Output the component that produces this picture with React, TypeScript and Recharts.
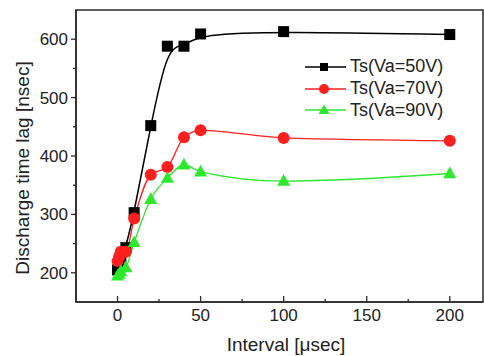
import React from 'react';
import { LineChart, Line, XAxis, YAxis, Legend, ReferenceArea } from 'recharts';

// interval [usec]
const intervals = [0, 1, 2, 5, 10, 20, 30, 40, 50, 100, 200];
// discharge time lag [nsec]
const ts50 = [205, 215, 228, 243, 303, 452, 588, 588, 609, 613, 608];
const ts70 = [220, 228, 236, 236, 293, 368, 381, 432, 444, 431, 426];
const ts90 = [195, 198, 202, 209, 252, 326, 362, 385, 373, 357, 370];

const xTicks = [0, 25, 50, 75, 100, 125, 150, 175, 200];
const yTicks = [200, 250, 300, 350, 400, 450, 500, 550, 600];
const xDomain = [-25, 220];
const yDomain = [150, 650];

const seriesNames = ['Ts(Va=50V)', 'Ts(Va=70V)', 'Ts(Va=90V)'];
const BLACK = '#000000';
const RED = '#ff1f1f';
const GREEN = '#2ee82e';

const FONT = '"Liberation Sans", Arial, sans-serif';
const AXIS = '#2a2a2a';

const data = intervals.map((x, i) => ({ x, a: ts50[i], b: ts70[i], c: ts90[i] }));

const XTick = (props: any) => {
  const { x, y, payload } = props;
  const major = payload.value % 50 === 0;
  return (
    <g>
      <line x1={x} y1={y} x2={x} y2={y - (major ? 6 : 3)} stroke={AXIS} strokeWidth={1.3} />
      {major && (
        <text x={x} y={y + 19} textAnchor="middle" fontSize={17} fontFamily={FONT} fill="#222">
          {payload.value}
        </text>
      )}
    </g>
  );
};

const YTick = (props: any) => {
  const { x, y, payload } = props;
  const major = payload.value % 100 === 0;
  return (
    <g>
      <line x1={x} y1={y} x2={x - (major ? 5 : 3)} y2={y} stroke={AXIS} strokeWidth={1.3} />
      {major && (
        <text x={x - 8} y={y + 6} textAnchor="end" fontSize={17} fontFamily={FONT} fill="#222">
          {payload.value}
        </text>
      )}
    </g>
  );
};

const square = (color: string, s: number) => (p: any) =>
  <rect key={`s-${p.index}`} x={p.cx - s / 2} y={p.cy - s / 2} width={s} height={s} fill={color} />;

const circle = (color: string, r: number) => (p: any) =>
  <circle key={`c-${p.index}`} cx={p.cx} cy={p.cy} r={r} fill={color} />;

const triangle = (color: string, w: number) => (p: any) => {
  const h = w * 0.9;
  return (
    <polygon
      key={`t-${p.index}`}
      points={`${p.cx},${p.cy - h * 0.6} ${p.cx - w / 2},${p.cy + h * 0.4} ${p.cx + w / 2},${p.cy + h * 0.4}`}
      fill={color}
    />
  );
};

const legendMarkers = [
  (c: string) => <rect x={15} y={7} width={8} height={8} fill={c} />,
  (c: string) => <circle cx={19} cy={11} r={5} fill={c} />,
  (c: string) => <polygon points="19,5.5 13.5,15 24.5,15" fill={c} />,
];

const LegendBox = () => (
  <div style={{ fontFamily: FONT, fontSize: 18, color: '#222' }}>
    {seriesNames.map((name, i) => {
      const c = [BLACK, RED, GREEN][i];
      return (
        <div key={name} style={{ display: 'flex', alignItems: 'center', height: 21.7 }}>
          <svg width={42} height={22}>
            <line x1={0} y1={11} x2={41} y2={11} stroke={c} strokeWidth={1.5} />
            {legendMarkers[i](c)}
          </svg>
          <span style={{ marginLeft: 3 }}>{name}</span>
        </div>
      );
    })}
  </div>
);

export default function App() {
  return (
    <div style={{ position: 'absolute', left: 0, top: 0, background: '#fff' }}>
      <LineChart width={484} height={356} data={data} margin={{ top: 10, right: 1, bottom: 0, left: 0 }}>
        <XAxis
          dataKey="x"
          type="number"
          domain={xDomain}
          ticks={xTicks}
          interval={0}
          tickSize={0}
          tickMargin={0}
          tick={<XTick />}
          height={54}
          stroke={AXIS}
          strokeWidth={1.5}
          allowDataOverflow
          label={() => (
            <text x={286} y={351} textAnchor="middle" fontSize={19} fontFamily={FONT} fill="#222">
              Interval [μsec]
            </text>
          )}
        />
        <YAxis
          type="number"
          domain={yDomain}
          ticks={yTicks}
          interval={0}
          tickSize={0}
          tickMargin={0}
          tick={<YTick />}
          width={76}
          stroke={AXIS}
          strokeWidth={1.5}
          allowDataOverflow
          label={() => (
            <text
              x={22}
              y={168}
              transform="rotate(-90 22 168)"
              textAnchor="middle"
              dominantBaseline="central"
              fontSize={19}
              fontFamily={FONT}
              fill="#222"
            >
              Discharge time lag [nsec]
            </text>
          )}
        />
        <ReferenceArea x1={xDomain[0]} x2={xDomain[1]} y1={yDomain[0]} y2={yDomain[1]} fill="none" stroke={AXIS} strokeWidth={1.5} />
        <Legend
          layout="horizontal"
          verticalAlign="middle"
          align="center"
          content={<LegendBox />}
          wrapperStyle={{ position: 'absolute', left: 305, top: 56, width: 'auto' }}
        />
        <Line type="basis" dataKey="a" name={seriesNames[0]} stroke={BLACK} strokeWidth={1.5} dot={square(BLACK, 11)} isAnimationActive={false} />
        <Line type="monotone" dataKey="b" name={seriesNames[1]} stroke={RED} strokeWidth={1.3} dot={circle(RED, 6)} isAnimationActive={false} />
        <Line type="monotone" dataKey="c" name={seriesNames[2]} stroke={GREEN} strokeWidth={1.3} dot={triangle(GREEN, 13)} isAnimationActive={false} />
      </LineChart>
    </div>
  );
}
